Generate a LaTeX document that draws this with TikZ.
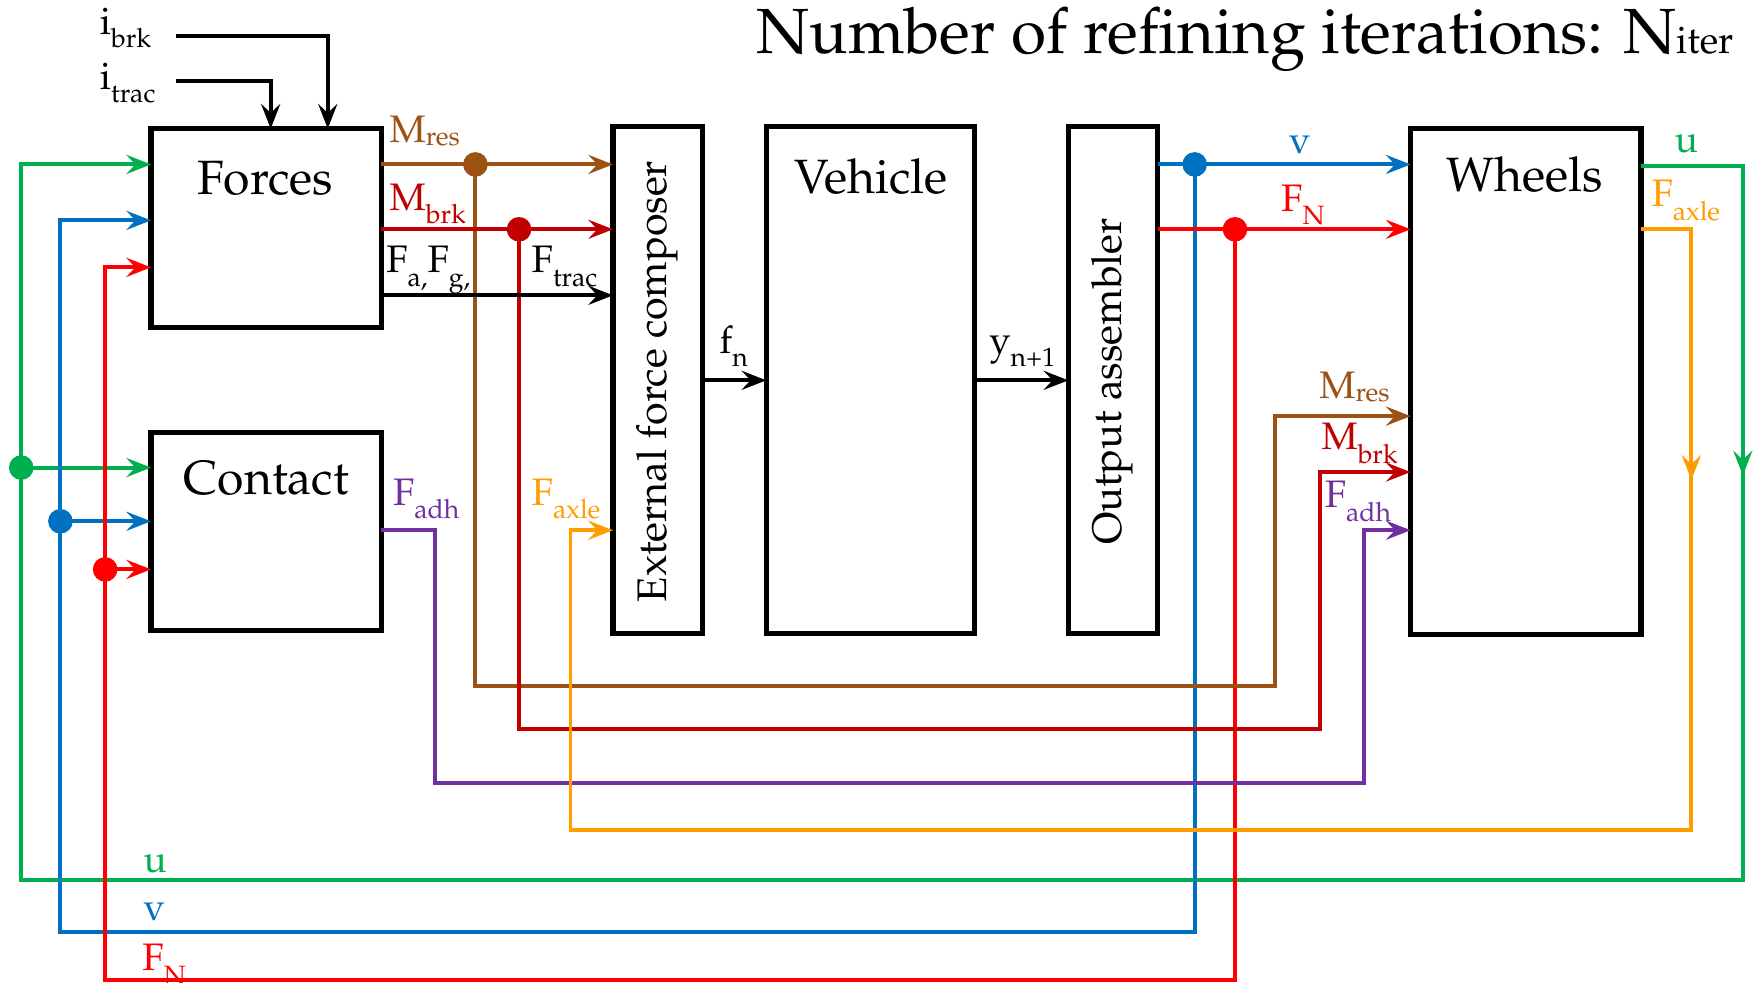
\documentclass[tikz,border=0pt]{standalone}
\usepackage[T1]{fontenc}
\renewcommand{\rmdefault}{ppl}
\usetikzlibrary{arrows.meta}
\definecolor{cgreen}{RGB}{0,176,80}
\definecolor{cblue}{RGB}{0,112,192}
\definecolor{cred}{RGB}{255,0,0}
\definecolor{cdred}{RGB}{192,0,0}
\definecolor{cbrown}{RGB}{156,82,18}
\definecolor{cpurple}{RGB}{112,48,160}
\definecolor{corange}{RGB}{255,156,0}
\newcommand{\lsz}{\fontsize{19.5}{20}\selectfont}
\newcommand{\ssz}{\fontsize{13.5}{14}\selectfont}
\newcommand{\sbd}[1]{\raisebox{-6.8pt}{\ssz #1}}
\newcommand{\sbu}[1]{\raisebox{-1.5pt}{\ssz #1}}
\begin{document}
\begin{tikzpicture}[x=0.02cm,y=-0.02cm,
  box/.style={draw=black, line width=2.6pt, inner sep=0pt, outer sep=0pt},
  ttl/.style={font=\fontsize{24.5}{26}\selectfont, anchor=base, inner sep=0pt},
  rttl/.style={font=\fontsize{21}{22}\selectfont, rotate=90, inner sep=0pt},
  lab/.style={anchor=base west, inner sep=0pt, font=\lsz},
  wire/.style={line width=2pt},
  arr/.style={wire, -{Stealth[length=0.44cm, width=0.34cm, inset=0.16cm]}},
]
\useasboundingbox (0,0) rectangle (1568,878);
\fill[white] (0,0) rectangle (1568,878);

% blocks
\node[box, minimum width=4.12cm, minimum height=3.56cm] (forces) at (238,204) {};
\node[box, minimum width=4.12cm, minimum height=3.54cm] (contact) at (238,475.5) {};
\node[box, minimum width=1.6cm, minimum height=9.06cm] (efc) at (588,339.5) {};
\node[box, minimum width=3.72cm, minimum height=9.06cm] (vehicle) at (778,339.5) {};
\node[box, minimum width=1.6cm, minimum height=9.06cm] (oa) at (995,339.5) {};
\node[box, minimum width=4.12cm, minimum height=9.04cm] (wheels) at (1364,341) {};

\node[ttl] (forcesT) at (237,174) {Forces};
\node[ttl] (contactT) at (238,442) {Contact};
\node[ttl] (vehicleT) at (779,173) {Vehicle};
\node[ttl] (wheelsT) at (1363,171) {Wheels};
\node[rttl] (efcT) at (588,341) {External force composer};
\node[rttl] (oaT) at (994,341) {Output assembler};

\node[anchor=base west, inner sep=0pt, font=\fontsize{32.5}{34}\selectfont] (title) at (676,47.5)
  {Number of refining iterations: N{\fontsize{19.5}{20}\selectfont iter}};

% junctions
\coordinate (dres) at (425,147);
\coordinate (dbrk) at (464,205);
\coordinate (dv) at (1068,147);
\coordinate (dfn) at (1104,205);
\coordinate (du) at (19,418);
\coordinate (dvl) at (54,466);
\coordinate (dfnl) at (94,509);
\coordinate (ibS) at (157,32);
\coordinate (itS) at (157,72);

% inputs to Forces
\draw[arr] (ibS) -| (forces.north -| 293,0);
\draw[arr] (itS) -| (forces.north -| 242,0);

% green u
\draw[arr, cgreen] (wheels.east |- 0,148) -| (1558,787) -| (19,147) -- (forces.west |- 0,147);
\draw[arr, cgreen] (1558,395) -- (1558,425);
\draw[arr, cgreen] (du) -- (contact.west |- du);

% blue v
\draw[arr, cblue] (oa.east |- dv) -- (wheels.west |- dv);
\draw[arr, cblue] (dv) |- (54,833) |- (forces.west |- 0,197);
\draw[arr, cblue] (dvl) -- (contact.west |- dvl);

% red FN
\draw[arr, cred] (oa.east |- dfn) -- (wheels.west |- dfn);
\draw[arr, cred] (dfn) |- (94,876) |- (forces.west |- 0,239);
\draw[arr, cred] (dfnl) -- (contact.west |- dfnl);

% brown Mres
\draw[arr, cbrown] (forces.east |- dres) -- (efc.west |- dres);
\draw[arr, cbrown] (dres) |- (1140,613) |- (wheels.west |- 0,372);

% dark red Mbrk
\draw[arr, cdred] (forces.east |- dbrk) -- (efc.west |- dbrk);
\draw[arr, cdred] (dbrk) |- (1180,652) |- (wheels.west |- 0,422);

% black forces
\draw[arr] (forces.east |- 0,264) -- (efc.west |- 0,264);

% purple Fadh
\draw[arr, cpurple] (contact.east |- 0,474) -| (389,700) -| (1219,474) -- (wheels.west |- 0,474);

% orange Faxle
\draw[arr, corange] (wheels.east |- 0,205) -| (1512,742) -| (510,474) -- (efc.west |- 0,474);
\draw[arr, corange] (1512,400) -- (1512,429);

% fn, y
\draw[arr] (efc.east |- 0,340) -- (vehicle.west |- 0,340);
\draw[arr] (vehicle.east |- 0,340) -- (oa.west |- 0,340);

% dots
\fill[cbrown] (dres) circle (0.22cm);
\fill[cdred] (dbrk) circle (0.22cm);
\fill[cblue] (dv) circle (0.22cm);
\fill[cred] (dfn) circle (0.22cm);
\fill[cgreen] (du) circle (0.22cm);
\fill[cblue] (dvl) circle (0.22cm);
\fill[cred] (dfnl) circle (0.22cm);

% labels
\node[lab] (librk) at (89,30.5) {i\sbd{brk}};
\node[lab] (litrac) at (89,80) {i\sbd{trac}};
\node[lab, cbrown] (lMresL) at (348,127) {M\sbu{res}};
\node[lab, cdred] (lMbrkL) at (348,188) {M\sbd{brk}};
\node[lab] (lFag) at (345,244) {F\sbd{a,}F\sbd{g,}};
\node[lab] (lFtrac) at (475,244) {F\sbd{trac}};
\node[lab, cpurple] (lFadhL) at (351,452) {F\sbd{adh}};
\node[lab, corange] (lFaxleL) at (475,452) {F\sbd{axle}};
\node[lab] (lfn) at (643,316) {f\sbd{n}};
\node[lab] (lyn) at (884,316) {y\sbd{n+1}};
\node[lab, cblue] (lvT) at (1152,137) {v};
\node[lab, cred] (lFNT) at (1145,189) {F\sbd{N}};
\node[lab, cgreen] (luT) at (1497,136) {u};
\node[lab, corange] (lFaxleR) at (1476,185) {F\sbd{axle}};
\node[lab, cbrown] (lMresR) at (1179,356) {M\sbu{res}};
\node[lab, cdred] (lMbrkR) at (1181,402) {M\sbd{brk}};
\node[lab, cpurple] (lFadhR) at (1184,454) {F\sbd{adh}};
\node[lab, cgreen] (luB) at (128,780) {u};
\node[lab, cblue] (lvB) at (128,823) {v};
\node[lab, cred] (lFNB) at (127,868) {F\sbd{N}};
\end{tikzpicture}
\end{document}
